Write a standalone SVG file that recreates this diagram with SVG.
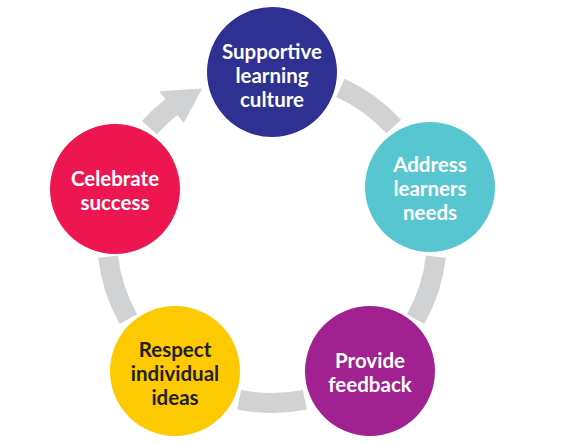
<svg xmlns="http://www.w3.org/2000/svg" width="563" height="443" viewBox="0 0 563 443">
<style>
.arc{fill:none;stroke:#d1d2d4;stroke-width:20;stroke-linecap:butt}
.head{fill:#d1d2d4}
text{font-family:Lato,"Open Sans","Liberation Sans",sans-serif;font-weight:700;font-size:20.5px;text-anchor:middle;fill:#ffffff}
.dark{fill:#231f20}
</style>
<rect width="563" height="443" fill="#ffffff"/>
<g id="connectors">
<path class="arc" d="M340.4,87.8 A165,165 0 0 1 393.7,126.5"/>
<path class="arc" d="M435.9,256.7 A165,165 0 0 1 415.6,319.2"/>
<path class="arc" d="M304.9,399.7 A165,165 0 0 1 239.1,399.7"/>
<path class="arc" d="M128.4,319.2 A165,165 0 0 1 108.1,256.7"/>
<path class="arc" d="M149.4,127.6 A165,165 0 0 1 173.5,105.6"/>
<polygon class="head" points="183.7,123 159.4,91.2 202.3,88.5"/>
</g>
<g id="node-supportive">
<circle cx="272" cy="72" r="65" fill="#2e3192"/>
<text x="272" y="58.5">Supportive</text>
<text x="272" y="82.5">learning</text>
<text x="272" y="106.5">culture</text>
</g>
<g id="node-address">
<circle cx="430" cy="187" r="65" fill="#58c6d1"/>
<text x="430" y="172">Address</text>
<text x="430" y="196">learners</text>
<text x="430" y="220">needs</text>
</g>
<g id="node-feedback">
<circle cx="370" cy="371" r="65" fill="#a0218f"/>
<text x="370" y="368">Provide</text>
<text x="370" y="392">feedback</text>
</g>
<g id="node-respect">
<circle cx="175" cy="371" r="65" fill="#fdc900"/>
<text class="dark" x="175" y="357">Respect</text>
<text class="dark" x="175" y="381">individual</text>
<text class="dark" x="175" y="405">ideas</text>
</g>
<g id="node-celebrate">
<circle cx="115" cy="189" r="65" fill="#ed1651"/>
<text x="115" y="186">Celebrate</text>
<text x="115" y="210">success</text>
</g>
</svg>
